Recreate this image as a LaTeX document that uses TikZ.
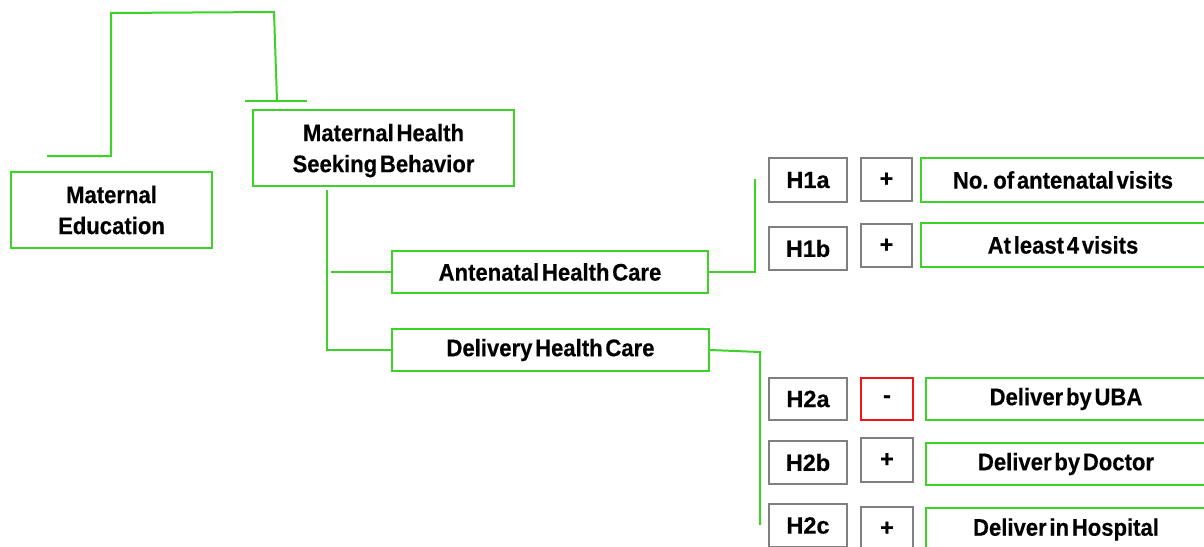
\documentclass[tikz,border=0pt]{standalone}
\usepackage{fontspec}
\setmainfont{Liberation Sans}[FakeStretch=0.92,WordSpace=0.45,BoldFeatures={FakeBold=0.4}]
\newfontfamily\labfont{Liberation Sans}[BoldFeatures={FakeBold=0.4}]
\definecolor{lgreen}{RGB}{60,210,40}
\definecolor{bgray}{RGB}{128,128,128}
\definecolor{bred}{RGB}{240,20,20}
\begin{document}
\begin{tikzpicture}[x=1pt,y=-1pt,
  gbox/.style={draw=lgreen,line width=2pt,inner sep=0pt,align=center,font=\fontsize{24}{31}\selectfont\bfseries},
  hbox/.style={draw=bgray,line width=2pt,inner sep=0pt,align=center,font=\labfont\fontsize{23.5}{26}\selectfont\bfseries},
  rbox/.style={hbox,draw=bred},
  conn/.style={draw=lgreen,line width=2pt}]
\useasboundingbox (0,0) rectangle (1204,546);
\node[gbox,minimum width=201pt,minimum height=76pt] (edu) at (111.5,210) {Maternal\\Education};
\node[gbox,minimum width=261pt,minimum height=76pt,text depth=0pt] (mhsb) at (383.5,148) {Maternal Health\\Seeking Behavior};
\node[gbox,minimum width=316pt,minimum height=42pt] (ante) at (550,272) {Antenatal Health Care};
\node[gbox,minimum width=317pt,minimum height=42pt] (deliv) at (550.5,350) {Delivery Health Care};
% H1
\node[hbox,minimum width=78pt,minimum height=44pt] (h1a) at (808,180) {H1a};
\node[hbox,minimum width=51pt,minimum height=43pt] (p1a) at (886.5,179.5) {+};
\node[gbox,minimum width=284pt,minimum height=44pt] (o1a) at (1063,180) {No. of antenatal visits};
\node[hbox,minimum width=78pt,minimum height=43pt] (h1b) at (808,248.5) {H1b};
\node[hbox,minimum width=51pt,minimum height=43pt] (p1b) at (886.5,245.5) {+};
\node[gbox,minimum width=284pt,minimum height=44pt] (o1b) at (1063,245) {At least 4 visits};
% H2
\node[hbox,minimum width=78pt,minimum height=42pt] (h2a) at (808,399) {H2a};
\node[rbox,minimum width=52pt,minimum height=42pt] (p2a) at (887,399) {-};
\node[gbox,minimum width=280pt,minimum height=42pt] (o2a) at (1066,399) {Deliver by UBA};
\node[hbox,minimum width=78pt,minimum height=43pt] (h2b) at (808,462.5) {H2b};
\node[hbox,minimum width=52pt,minimum height=44pt] (p2b) at (887,460) {+};
\node[gbox,minimum width=280pt,minimum height=42pt] (o2b) at (1066,464) {Deliver by Doctor};
\node[hbox,minimum width=78pt,minimum height=43pt] (h2c) at (808,525.5) {H2c};
\node[hbox,minimum width=52pt,minimum height=43pt] (p2c) at (887,528.5) {+};
\node[gbox,minimum width=280pt,minimum height=43pt] (o2c) at (1066,529.5) {Deliver in Hospital};
% connectors
\coordinate (s) at (47,156);
\coordinate (bar) at (277,101);
\coordinate (barL) at (245,101);
\coordinate (barR) at (307,101);
\draw[conn] (s) -- (111,156) -- (111,13) -- (274,12) -- (bar);
\draw[conn] (barL) -- (barR);
\coordinate (t1) at (327,190);
\draw[conn] (t1) -- (327,350) -- (deliv.west);
\draw[conn] (331,272) -- (ante.west);
\coordinate (a1) at (755,179);
\draw[conn] (ante.east) -- (755,272) -- (a1);
\coordinate (d1) at (760,525);
\draw[conn] (deliv.east) -- (760,352) -- (d1);
\end{tikzpicture}
\end{document}
